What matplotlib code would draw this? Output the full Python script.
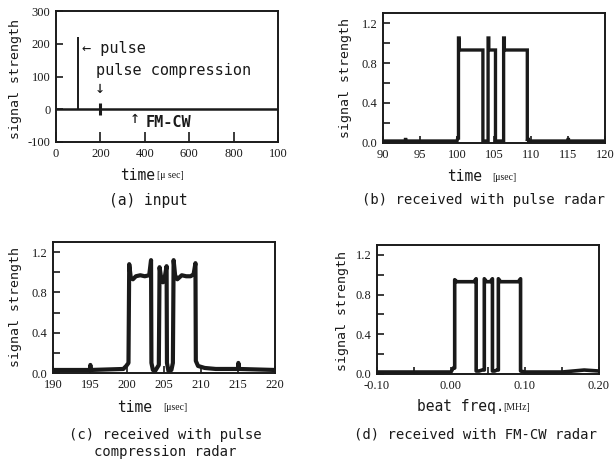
import numpy as np
import matplotlib
matplotlib.use('Agg')
import matplotlib.pyplot as plt
import matplotlib.ticker as mticker

plt.rcParams['axes.unicode_minus'] = False

W, H = 616, 463

# (a) input signals
a_pulse_time = 100
a_pulse_peak = 220
a_comp_time = 200
a_comp_range = [-18, 18]
a_fmcw_time = [0, 1000]
a_fmcw_sig = [0, 0]
a_xticks = [0, 200, 400, 600, 800, 1000]
a_xlabels = ['0', '200', '400', '600', '800', '100']
a_yticks = [-100, 0, 100, 200, 300]

# (b) received with pulse radar
b_time = [90, 93, 93.05, 93.1, 100.0, 100.1, 100.2, 100.2, 100.3, 100.3, 103.5, 103.5,
          104.2, 104.2, 104.3, 104.3, 105.2, 105.2, 106.3, 106.3, 106.4, 106.4,
          109.5, 109.5, 109.6, 109.7, 115, 115.05, 115.1, 120]
b_sig = [0.02, 0.02, 0.05, 0.02, 0.02, 0.05, 0.05, 1.05, 1.05, 0.93, 0.93, 0.02,
         0.02, 1.05, 1.05, 0.93, 0.93, 0.02, 0.02, 1.05, 1.05, 0.93,
         0.93, 0.02, 0.05, 0.02, 0.02, 0.05, 0.02, 0.02]

# (c) received with pulse compression radar
c_time = [190, 195, 195.05, 195.1, 199.5, 199.9, 200.2, 200.3, 200.5, 200.8, 201.2,
          201.8, 202.4, 203.0, 203.25, 203.3, 203.5, 203.8, 204.3, 204.4, 204.6,
          204.85, 205.1, 205.35, 205.4, 205.6, 206.0, 206.2, 206.3, 206.5, 206.8,
          207.4, 208.0, 208.6, 209.0, 209.25, 209.3, 209.6, 210.5, 212, 215,
          215.05, 215.15, 220]
c_sig = [0.03, 0.03, 0.08, 0.03, 0.04, 0.07, 0.1, 1.08, 0.95, 0.93, 0.96,
         0.97, 0.96, 0.97, 1.12, 0.1, 0.03, 0.02, 0.08, 1.05, 0.95,
         0.9, 0.95, 1.06, 0.1, 0.02, 0.03, 0.1, 1.12, 0.97, 0.93,
         0.97, 0.96, 0.96, 0.98, 1.09, 0.12, 0.07, 0.05, 0.04, 0.04,
         0.1, 0.04, 0.03]

# (d) received with FM-CW radar
d_time = [-0.10, 0.0, 0.003, 0.005, 0.005, 0.008, 0.031, 0.034, 0.034, 0.038,
          0.042, 0.045, 0.045, 0.048, 0.053, 0.056, 0.056, 0.059, 0.062, 0.064,
          0.064, 0.067, 0.091, 0.094, 0.094, 0.1, 0.15, 0.18, 0.2]
d_sig = [0.02, 0.02, 0.06, 0.06, 0.95, 0.93, 0.93, 0.96, 0.03, 0.03,
         0.04, 0.04, 0.96, 0.93, 0.93, 0.96, 0.03, 0.03, 0.04, 0.04,
         0.96, 0.93, 0.93, 0.96, 0.03, 0.02, 0.02, 0.04, 0.03]

MONO = 'DejaVu Sans Mono'
SERIF = 'Liberation Serif'
INK = '#1a1a1a'


def px(x, y):
    return x / W, 1 - y / H


def make_axes(fig, left, top, right, bottom):
    ax = fig.add_axes([left / W, 1 - bottom / H, (right - left) / W, (bottom - top) / H])
    for s in ax.spines.values():
        s.set_linewidth(1.4)
        s.set_color(INK)
    ax.tick_params(direction='in', which='both', length=5, width=1.2, color=INK,
                   labelsize=9, pad=4)
    return ax


def set_serif(ax):
    for lab in ax.get_xticklabels() + ax.get_yticklabels():
        lab.set_fontfamily(SERIF)
        lab.set_color(INK)


fig = plt.figure(figsize=(W / 100, H / 100), dpi=100)

# (a)
ax = make_axes(fig, 56, 11, 278, 142)
ax.plot(a_fmcw_time, a_fmcw_sig, color=INK, lw=1.8)
ax.vlines(a_pulse_time, 0, a_pulse_peak, color=INK, lw=1.4)
ax.vlines(a_comp_time, a_comp_range[0], a_comp_range[1], color=INK, lw=2.2)
ax.set_xlim(0, 1000)
ax.set_ylim(-100, 300)
ax.set_xticks(a_xticks)
ax.set_xticklabels(a_xlabels)
ax.set_yticks(a_yticks)
ax.tick_params(axis='x', length=7)
set_serif(ax)
ax.text(117, 187, '\u2190 pulse', fontsize=11, family=MONO, color=INK, va='center')
ax.text(180, 119, 'pulse compression', fontsize=11, family=MONO, color=INK, va='center')
ax.text(198, 64, '\u2193', fontsize=12, family=MONO, color=INK, va='center', ha='center')
ax.text(356, -28, '\u2191', fontsize=12, family=MONO, color=INK, va='center', ha='center')
ax.text(405, -40, 'FM-CW', fontsize=11, family=MONO, color=INK, va='center',
        fontweight='bold')

# (b)
ax = make_axes(fig, 383, 13, 605, 143)
ax.plot(b_time, b_sig, color=INK, lw=2.4, solid_joinstyle='miter')
ax.set_xlim(90, 120)
ax.set_ylim(0, 1.3)
ax.xaxis.set_major_locator(mticker.MultipleLocator(5))
ax.yaxis.set_major_locator(mticker.MultipleLocator(0.4))
ax.yaxis.set_minor_locator(mticker.MultipleLocator(0.2))
ax.yaxis.set_major_formatter(mticker.FormatStrFormatter('%.1f'))
set_serif(ax)

# (c)
ax = make_axes(fig, 53, 242, 275, 373)
ax.plot(c_time, c_sig, color=INK, lw=3.0, solid_joinstyle='round')
ax.set_xlim(190, 220)
ax.set_ylim(0, 1.3)
ax.xaxis.set_major_locator(mticker.MultipleLocator(5))
ax.yaxis.set_major_locator(mticker.MultipleLocator(0.4))
ax.yaxis.set_minor_locator(mticker.MultipleLocator(0.2))
ax.yaxis.set_major_formatter(mticker.FormatStrFormatter('%.1f'))
set_serif(ax)

# (d)
ax = make_axes(fig, 377, 245, 599, 374)
ax.plot(d_time, d_sig, color=INK, lw=2.6, solid_joinstyle='round')
ax.set_xlim(-0.10, 0.20)
ax.set_ylim(0, 1.3)
ax.xaxis.set_major_locator(mticker.MultipleLocator(0.1))
ax.xaxis.set_minor_locator(mticker.MultipleLocator(0.05))
ax.xaxis.set_major_formatter(mticker.FormatStrFormatter('%.2f'))
ax.yaxis.set_major_locator(mticker.MultipleLocator(0.4))
ax.yaxis.set_minor_locator(mticker.MultipleLocator(0.2))
ax.yaxis.set_major_formatter(mticker.FormatStrFormatter('%.1f'))
set_serif(ax)

# y labels
for x, y in [(16, 79), (345, 78), (16, 307), (343, 311)]:
    fig.text(*px(x, y), 'signal strength', rotation=90, family=MONO, fontsize=9.5,
             color=INK, ha='center', va='center')

# x labels
xl = [
    (120, 175, 'time', 157, '[\u03bc sec]'),
    (447, 177, 'time', 492, '[\u03bcsec]'),
    (117, 407, 'time', 163, '[\u03bcsec]'),
    (417, 406, 'beat freq.', 503, '[MHz]'),
]
for x1, y, t1, x2, t2 in xl:
    fig.text(*px(x1, y), t1, family=MONO, fontsize=10.5, color=INK, ha='left', va='center')
    fig.text(*px(x2, y + 1), t2, family=SERIF, fontsize=7, color=INK, ha='left', va='center')

# captions
fig.text(*px(148, 200), '(a) input', family=MONO, fontsize=10.5, color=INK,
         ha='center', va='center')
fig.text(*px(483, 200), '(b) received with pulse radar', family=MONO, fontsize=10,
         color=INK, ha='center', va='center')
fig.text(*px(165, 435), '(c) received with pulse', family=MONO, fontsize=10,
         color=INK, ha='center', va='center')
fig.text(*px(165, 452), 'compression radar', family=MONO, fontsize=10,
         color=INK, ha='center', va='center')
fig.text(*px(475, 434), '(d) received with FM-CW radar', family=MONO, fontsize=10,
         color=INK, ha='center', va='center')

fig.savefig('out.png', dpi=100)
